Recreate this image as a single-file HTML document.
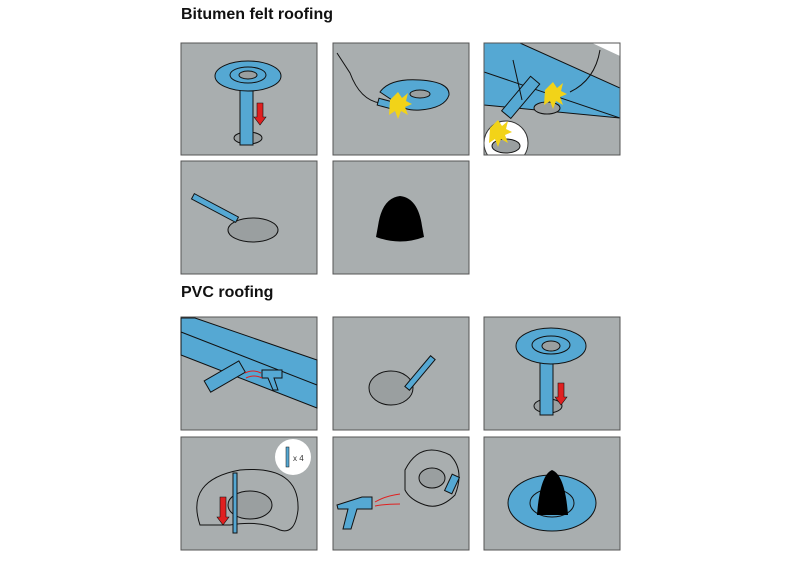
<!DOCTYPE html>
<html><head><meta charset="utf-8"><style>
html,body{margin:0;padding:0;background:#fff;width:800px;height:572px;overflow:hidden}
svg{display:block}
text{font-family:"Liberation Sans",sans-serif}
</style></head><body>
<svg width="800" height="572" viewBox="0 0 800 572" xmlns="http://www.w3.org/2000/svg">
<defs>
<style>.p{fill:#a9aeaf;stroke:#555;stroke-width:1}.b{fill:#55a8d3;stroke:#111;stroke-width:1}.k{fill:none;stroke:#111;stroke-width:1}.h{fill:#9a9fa0;stroke:#111;stroke-width:1}</style>
<clipPath id="c3"><rect x="484" y="43" width="136" height="112"/></clipPath>
</defs>
<text x="181" y="19" font-size="16" font-weight="bold" fill="#111">Bitumen felt roofing</text>
<text x="181" y="297" font-size="16" font-weight="bold" fill="#111">PVC roofing</text>

<!-- Row1 -->
<rect class="p" x="181" y="43" width="136" height="112"/>
<ellipse class="h" cx="248" cy="138" rx="14" ry="6"/>
<rect class="b" x="240" y="90" width="13" height="55"/>
<ellipse class="b" cx="248" cy="76" rx="33" ry="15"/>
<ellipse class="b" cx="248" cy="75" rx="18" ry="8"/>
<ellipse class="h" cx="248" cy="75" rx="9" ry="4"/>
<path d="M257 103h6v14h3l-6 8-6-8h3z" fill="#e02020" stroke="#111" stroke-width="0.6"/>

<rect class="p" x="333" y="43" width="136" height="112"/>
<path class="b" d="M380 92 Q390 78 420 80 Q450 82 449 95 Q445 108 420 110 Q405 111 398 104 Z"/>
<ellipse class="h" cx="420" cy="94" rx="10" ry="4"/>
<path class="k" d="M337 53 L350 73 Q360 100 380 103"/>
<rect x="378" y="100" width="14" height="7" fill="#55a8d3" stroke="#111" transform="rotate(15 385 103)"/>
<path d="M390 100 l8-8 4 6 6-5 -2 8 6 3-7 3 3 8-7-4-3 8-3-8-6 4z" fill="#f2d318"/>

<rect class="p" x="484" y="43" width="136" height="112"/>
<g clip-path="url(#c3)">
<path d="M484 43 L520 43 L620 88 L620 118 L484 105 Z" fill="#55a8d3" stroke="#111"/>
<path class="k" d="M484 72 L620 118"/>
<path d="M592 43 L620 56 L620 43Z" fill="#fff"/>
<ellipse class="h" cx="547" cy="108" rx="13" ry="6"/>
<rect x="515" y="75" width="12" height="45" fill="#55a8d3" stroke="#111" transform="rotate(40 521 97)"/>
<circle cx="506" cy="143" r="22" fill="#fff" stroke="#333"/>
<ellipse class="h" cx="506" cy="146" rx="14" ry="7"/>
<path d="M490 128 l8-8 4 6 6-5 -2 8 6 3-7 3 3 8-7-4-3 8-3-8-6 4z" fill="#f2d318"/>
<path d="M545 90 l8-8 4 6 6-5 -2 8 6 3-7 3 3 8-7-4-3 8-3-8-6 4z" fill="#f2d318"/>
<path class="k" d="M600 50 Q595 80 570 92 M513 60 L522 100"/>
</g>
<rect x="484" y="43" width="136" height="112" fill="none" stroke="#555"/>

<!-- Row2 -->
<rect class="p" x="181" y="161" width="136" height="113"/>
<ellipse class="h" cx="253" cy="230" rx="25" ry="12"/>
<rect x="190" y="205" width="50" height="6" fill="#55a8d3" stroke="#111" transform="rotate(28 215 208)"/>
<rect class="p" x="333" y="161" width="136" height="113"/>
<path d="M376 237 L378 226 Q382 198 400 196 Q418 198 422 226 L424 237 Q400 246 376 237Z" fill="#000"/>

<!-- Row3 -->
<rect class="p" x="181" y="317" width="136" height="113"/>
<path d="M181 318 L195 318 L317 360 L317 408 L181 355 Z" fill="#55a8d3" stroke="#111"/>
<path class="k" d="M181 332 L317 385"/>
<rect x="205" y="370" width="40" height="13" fill="#55a8d3" stroke="#111" transform="rotate(-30 225 377)"/>
<path d="M262 370 h20 v8 h-8 l4 12 -5 0 -5-12 h-6z" fill="#55a8d3" stroke="#111"/>
<path d="M245 373 q8 -4 16 0 M246 378 q8 -4 16 0" stroke="#e02020" fill="none"/>

<rect class="p" x="333" y="317" width="136" height="113"/>
<ellipse class="h" cx="391" cy="388" rx="22" ry="17"/>
<rect x="400" y="370" width="40" height="6" fill="#55a8d3" stroke="#111" transform="rotate(-50 420 373)"/>

<rect class="p" x="484" y="317" width="136" height="113"/>
<ellipse class="h" cx="548" cy="406" rx="14" ry="7"/>
<rect class="b" x="540" y="363" width="13" height="52"/>
<ellipse class="b" cx="551" cy="346" rx="35" ry="18"/>
<ellipse class="b" cx="551" cy="345" rx="19" ry="9"/>
<ellipse class="h" cx="551" cy="346" rx="9" ry="5"/>
<path d="M558 383h6v14h3l-6 8-6-8h3z" fill="#e02020" stroke="#111" stroke-width="0.6"/>

<!-- Row4 -->
<rect class="p" x="181" y="437" width="136" height="113"/>
<path class="k" d="M200 525 Q185 480 240 470 Q300 465 298 510 Q295 535 280 530 Q260 520 230 525 Z"/>
<ellipse class="h" cx="250" cy="505" rx="22" ry="14"/>
<rect x="233" y="473" width="4" height="60" fill="#55a8d3" stroke="#111"/>
<path d="M220 497h6v20h3l-6 8-6-8h3z" fill="#e02020" stroke="#111" stroke-width="0.6"/>
<circle cx="293" cy="457" r="18" fill="#fff"/>
<rect x="286" y="447" width="3" height="20" fill="#55a8d3" stroke="#111" stroke-width="0.5"/>
<text x="293" y="461" font-size="8" font-family="Liberation Serif" fill="#333">x 4</text>

<rect class="p" x="333" y="437" width="136" height="113"/>
<path class="k" d="M405 470 Q420 440 450 455 Q465 470 455 495 Q440 510 425 505 Q410 500 405 490 Z"/>
<ellipse class="h" cx="432" cy="478" rx="13" ry="10"/>
<path d="M337 505 l25-8 h10 v12 h-15 l-6 20 h-8 l5-20 h-10 z" fill="#55a8d3" stroke="#111"/>
<path d="M375 502 q10-6 25-8 M375 506 q10-2 25-2" stroke="#e02020" fill="none"/>
<rect x="448" y="475" width="8" height="18" fill="#55a8d3" stroke="#111" transform="rotate(25 452 484)"/>

<rect class="p" x="484" y="437" width="136" height="113"/>
<ellipse class="b" cx="552" cy="503" rx="44" ry="28"/>
<ellipse class="b" cx="552" cy="503" rx="22" ry="14"/>
<path d="M537 515 Q540 475 552 470 Q565 475 568 515 Z" fill="#000"/>
</svg>
</body></html>
